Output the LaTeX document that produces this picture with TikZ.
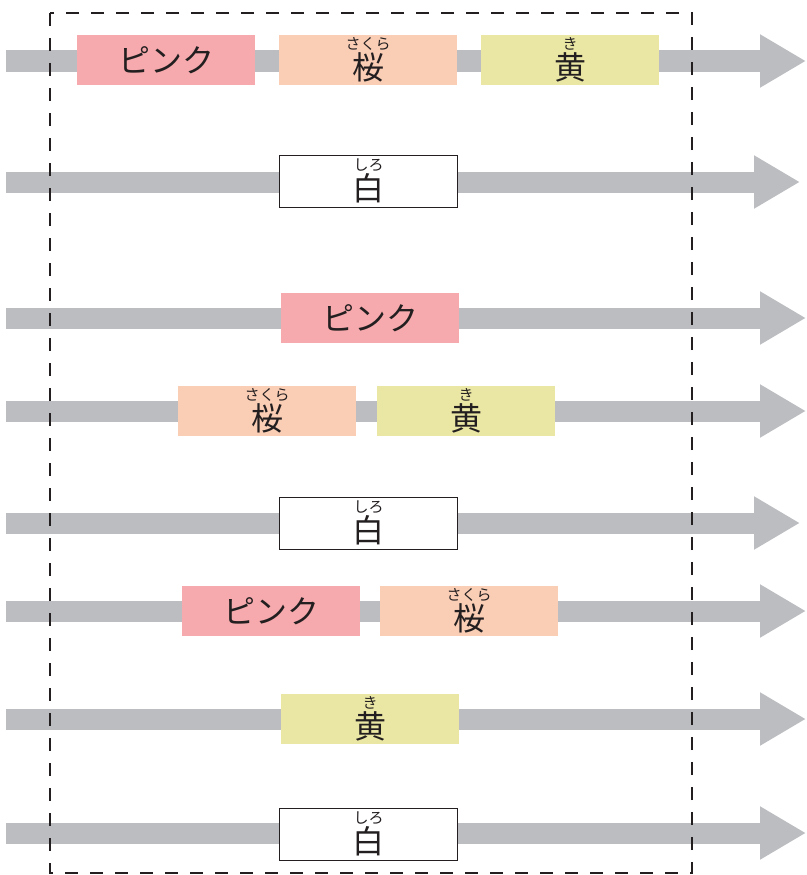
\documentclass[tikz,border=0pt]{standalone}
\usepackage{fontspec}
\setmainfont{Noto Sans CJK JP}
\usetikzlibrary{arrows.meta}

\definecolor{flowgray}{HTML}{BCBDC0}
\definecolor{pinkfill}{HTML}{F6AAAD}
\definecolor{sakurafill}{HTML}{FACDB5}
\definecolor{kifill}{HTML}{EAE6A3}
\definecolor{ink}{HTML}{231F20}

% ruby over a kanji
\newcommand{\furi}[2]{{\fontsize{15}{15}\selectfont #2}\\#1}

\begin{document}
\begin{tikzpicture}[x=1pt,y=-1pt,>=latex,
  flow/.style={draw=flowgray,line width=21pt,-{Triangle[width=50pt,length=46pt]}},
  card/.style={minimum width=178pt,minimum height=50pt,inner sep=0pt,align=center,
    text=ink,font=\fontsize{32}{30}\selectfont},
  pinkbox/.style={card,fill=pinkfill},
  sakurabox/.style={card,fill=sakurafill},
  kibox/.style={card,fill=kifill},
  shirobox/.style={card,fill=white,draw=ink,line width=0.8pt,minimum height=52pt}]

\useasboundingbox (0,0) rectangle (806,875);

% Draw the gray flow arrows
\foreach \i/\y/\tip in {1/61/806,2/182/800,3/318/806,4/411/806,5/523/800,6/611/806,7/719/806,8/833/806}{
  \coordinate (s\i) at (6,\y);
  \coordinate (e\i) at (\tip,\y);
  \draw[flow] (s\i) -- (e\i);
}

% Dashed frame
\draw[ink,line width=2.4pt,dash pattern=on 13pt off 12pt] (50,13) rectangle (692,873);

% Row 1
\node[pinkbox] (pink1) at (166,60) {ピンク};
\node[sakurabox] (sakura1) at (368,60) {\furi{桜}{さくら}};
\node[kibox] (ki1) at (570,60) {\furi{黄}{き}};

% Row 2
\node[shirobox] (shiro2) at (368.5,181) {\furi{白}{しろ}};

% Row 3
\node[pinkbox] (pink3) at (370,318) {ピンク};

% Row 4
\node[sakurabox] (sakura4) at (267,411) {\furi{桜}{さくら}};
\node[kibox] (ki4) at (466,411) {\furi{黄}{き}};

% Row 5
\node[shirobox] (shiro5) at (368.5,523) {\furi{白}{しろ}};

% Row 6
\node[pinkbox] (pink6) at (271,611) {ピンク};
\node[sakurabox] (sakura6) at (469,611) {\furi{桜}{さくら}};

% Row 7
\node[kibox] (ki7) at (370,719) {\furi{黄}{き}};

% Row 8
\node[shirobox] (shiro8) at (368.5,834) {\furi{白}{しろ}};

\end{tikzpicture}
\end{document}
